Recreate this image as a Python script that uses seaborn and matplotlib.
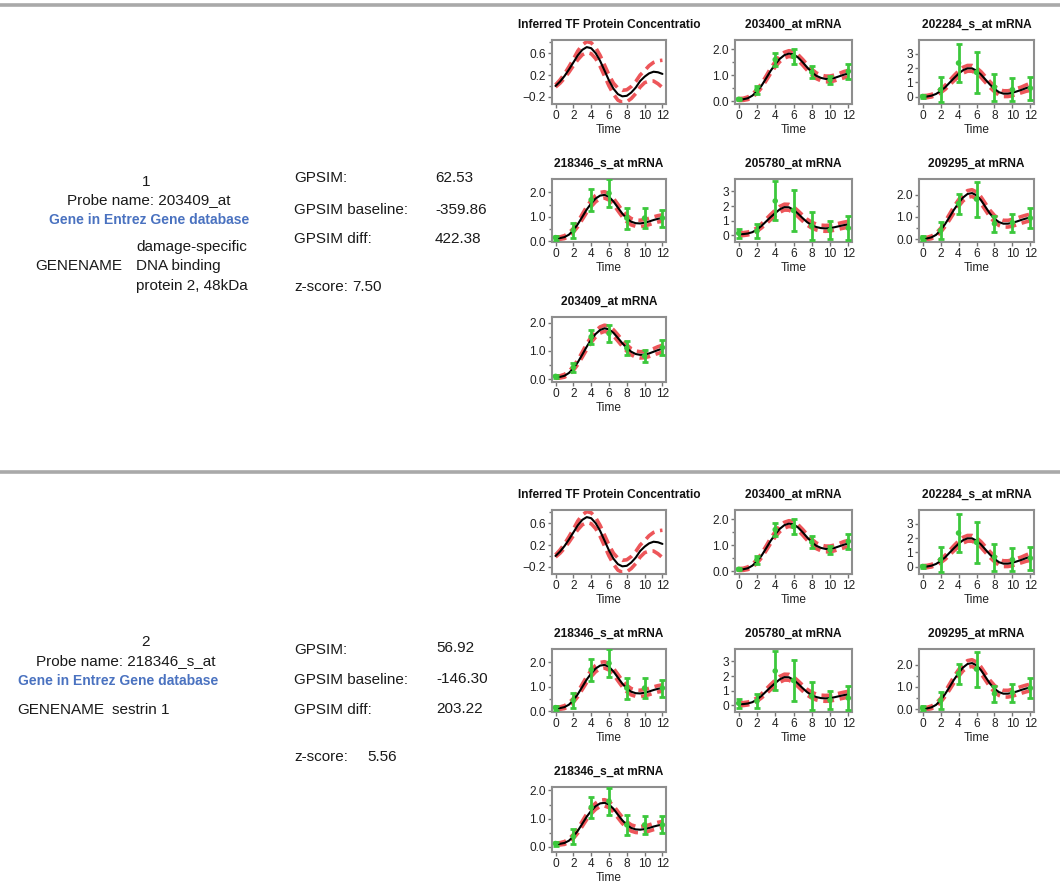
import numpy as np
import matplotlib
matplotlib.use("Agg")
import matplotlib.pyplot as plt
from matplotlib.lines import Line2D
import seaborn as sns

sns.set_theme(style="white")
plt.rcParams["font.family"] = ["Liberation Sans", "DejaVu Sans"]

# ---------------------------------------------------------------- data
t_fine = [0, 0.5, 1, 1.5, 2, 2.5, 3, 3.5, 4, 4.5, 5, 5.5, 6,
          6.5, 7, 7.5, 8, 8.5, 9, 9.5, 10, 10.5, 11, 11.5, 12]
t_obs = [0, 2, 4, 6, 8, 10, 12]

# inferred transcription-factor protein profile (posterior mean, 2-sd band)
tf_mean = [0.00, 0.08, 0.18, 0.30, 0.43, 0.56, 0.66, 0.71, 0.69, 0.60, 0.46, 0.28, 0.10,
           -0.05, -0.15, -0.19, -0.18, -0.12, -0.03, 0.09, 0.17, 0.23, 0.26, 0.25, 0.22]
tf_band = [0.02, 0.03, 0.04, 0.05, 0.06, 0.08, 0.09, 0.10, 0.10, 0.10, 0.10, 0.10, 0.10,
           0.10, 0.11, 0.11, 0.11, 0.11, 0.11, 0.11, 0.11, 0.14, 0.17, 0.21, 0.25]

# 203400_at
m203400_mean = [0.07, 0.08, 0.12, 0.22, 0.38, 0.60, 0.88, 1.17, 1.42, 1.63, 1.77, 1.83, 1.80,
                1.68, 1.50, 1.30, 1.12, 0.98, 0.90, 0.86, 0.86, 0.90, 0.96, 1.02, 1.07]
m203400_band = [0.04, 0.04, 0.05, 0.06, 0.07, 0.08, 0.09, 0.10, 0.10, 0.11, 0.11, 0.11, 0.11,
                0.11, 0.11, 0.11, 0.11, 0.11, 0.11, 0.11, 0.11, 0.11, 0.11, 0.12, 0.12]
m203400_obs = [0.08, 0.45, 1.60, 1.72, 1.12, 0.82, 1.15]
m203400_err = [0.04, 0.15, 0.25, 0.30, 0.22, 0.15, 0.30]

# 202284_s_at
m202284_mean = [0.00, 0.02, 0.08, 0.20, 0.40, 0.65, 0.98, 1.30, 1.60, 1.85, 1.98, 1.98, 1.82,
                1.55, 1.20, 0.85, 0.55, 0.32, 0.22, 0.22, 0.28, 0.38, 0.48, 0.60, 0.70]
m202284_band = [0.08, 0.08, 0.09, 0.10, 0.12, 0.14, 0.16, 0.18, 0.20, 0.20, 0.20, 0.20, 0.20,
                0.20, 0.20, 0.20, 0.20, 0.20, 0.20, 0.20, 0.20, 0.20, 0.20, 0.22, 0.25]
m202284_obs = [0.02, 0.50, 2.35, 1.70, 0.67, 0.50, 0.60]
m202284_err = [0.10, 0.85, 1.35, 1.45, 0.95, 0.80, 0.80]

# 218346_s_at
m218346_mean = [0.12, 0.13, 0.17, 0.27, 0.45, 0.70, 1.00, 1.30, 1.55, 1.75, 1.87, 1.90, 1.82,
                1.63, 1.38, 1.13, 0.93, 0.80, 0.74, 0.73, 0.76, 0.81, 0.87, 0.92, 0.95]
m218346_band = [0.05, 0.05, 0.06, 0.07, 0.08, 0.10, 0.11, 0.12, 0.13, 0.13, 0.13, 0.13, 0.13,
                0.13, 0.13, 0.13, 0.13, 0.13, 0.13, 0.13, 0.13, 0.13, 0.13, 0.13, 0.13]
m218346_obs = [0.15, 0.45, 1.70, 1.97, 0.95, 0.95, 0.95]
m218346_err = [0.08, 0.30, 0.45, 0.58, 0.43, 0.40, 0.35]

# 205780_at
m205780_mean = [0.08, 0.09, 0.13, 0.22, 0.40, 0.65, 0.95, 1.25, 1.52, 1.78, 1.93, 1.92, 1.75,
                1.48, 1.18, 0.90, 0.70, 0.57, 0.50, 0.48, 0.50, 0.56, 0.63, 0.70, 0.76]
m205780_band = [0.10, 0.10, 0.10, 0.11, 0.12, 0.14, 0.16, 0.18, 0.20, 0.20, 0.20, 0.20, 0.20,
                0.20, 0.20, 0.20, 0.20, 0.20, 0.20, 0.20, 0.20, 0.20, 0.20, 0.20, 0.20]
m205780_obs = [0.15, 0.30, 2.35, 1.70, 0.65, 0.35, 0.50]
m205780_err = [0.30, 0.50, 1.33, 1.40, 0.95, 0.60, 0.80]

# 209295_at
m209295_mean = [0.03, 0.04, 0.09, 0.20, 0.40, 0.68, 1.00, 1.33, 1.62, 1.87, 2.03, 2.07, 1.97,
                1.75, 1.45, 1.15, 0.92, 0.77, 0.70, 0.70, 0.74, 0.80, 0.87, 0.93, 0.98]
m209295_band = [0.05, 0.05, 0.06, 0.07, 0.09, 0.11, 0.13, 0.14, 0.15, 0.15, 0.15, 0.15, 0.15,
                0.15, 0.15, 0.15, 0.15, 0.15, 0.15, 0.15, 0.15, 0.15, 0.15, 0.15, 0.15]
m209295_obs = [0.06, 0.40, 1.60, 1.80, 0.70, 0.75, 0.95]
m209295_err = [0.10, 0.38, 0.45, 0.78, 0.35, 0.40, 0.45]

# 203409_at
m203409_mean = [0.07, 0.08, 0.12, 0.22, 0.38, 0.60, 0.87, 1.15, 1.40, 1.60, 1.74, 1.80, 1.76,
                1.64, 1.46, 1.27, 1.10, 0.97, 0.89, 0.86, 0.87, 0.91, 0.97, 1.03, 1.08]
m203409_band = [0.04, 0.04, 0.05, 0.06, 0.07, 0.08, 0.09, 0.10, 0.10, 0.11, 0.11, 0.11, 0.11,
                0.11, 0.11, 0.11, 0.11, 0.11, 0.11, 0.11, 0.11, 0.11, 0.11, 0.12, 0.12]
m203409_obs = [0.10, 0.42, 1.50, 1.62, 1.10, 0.82, 1.12]
m203409_err = [0.05, 0.15, 0.25, 0.30, 0.25, 0.20, 0.28]

# 218346_s_at as the regulator's own mRNA in the second model
r218346_mean = [0.10, 0.11, 0.14, 0.22, 0.37, 0.57, 0.82, 1.07, 1.28, 1.44, 1.54, 1.56, 1.50,
                1.35, 1.14, 0.94, 0.78, 0.67, 0.62, 0.61, 0.63, 0.67, 0.72, 0.76, 0.79]
r218346_band = [0.04, 0.04, 0.05, 0.06, 0.07, 0.08, 0.09, 0.10, 0.11, 0.11, 0.11, 0.11, 0.11,
                0.11, 0.11, 0.11, 0.11, 0.11, 0.11, 0.11, 0.11, 0.11, 0.11, 0.11, 0.11]
r218346_obs = [0.12, 0.37, 1.40, 1.62, 0.78, 0.78, 0.78]
r218346_err = [0.07, 0.25, 0.37, 0.48, 0.35, 0.33, 0.30]

# ranking table entries
rank_ids = ["1", "2"]
probe_names = ["203409_at", "218346_s_at"]
gene_names = [["damage-specific", "DNA binding", "protein 2, 48kDa"], ["sestrin 1"]]
gpsim_scores = ["62.53", "56.92"]
gpsim_baseline = ["-359.86", "-146.30"]
gpsim_diff = ["422.38", "203.22"]
z_scores = ["7.50", "5.56"]

# ---------------------------------------------------------------- style
W, H = 1060, 885
RED = "#e8262b"
GREEN = "#3cc83c"
FRAME = "#8e8e8e"
LINK = "#4a72c0"
TICK_FS = 8.6
TITLE_FS = 8.6

fig = plt.figure(figsize=(W / 100, H / 100), dpi=100)
fig.patch.set_facecolor("white")


def px_axes(left, top, right, bottom):
    return fig.add_axes([left / W, 1 - bottom / H, (right - left) / W, (bottom - top) / H])


def px_text(x, y, s, **kw):
    kw.setdefault("va", "center")
    kw.setdefault("fontsize", 11)
    kw.setdefault("color", "#1a1a1a")
    fig.text(x / W, 1 - y / H, s, **kw)


def draw_panel(ax, title, mean, band, ylim, yticks, ylabels, yminor, obs=None, err=None):
    mean = np.asarray(mean)
    band = np.asarray(band)
    dash = (0, (3.0, 1.6))
    sns.lineplot(x=t_fine, y=mean + band, ax=ax, color=RED, lw=2.6, linestyle=dash, alpha=0.78)
    sns.lineplot(x=t_fine, y=mean - band, ax=ax, color=RED, lw=2.6, linestyle=dash, alpha=0.78)
    sns.lineplot(x=t_fine, y=mean, ax=ax, color="black", lw=1.5)
    if obs is not None:
        ax.errorbar(t_obs, obs, yerr=err, fmt="none", ecolor=GREEN, elinewidth=2.0,
                    capsize=2.5, capthick=2.0, zorder=5)
        sns.scatterplot(x=t_obs, y=obs, ax=ax, color=GREEN, s=16, edgecolor="none", zorder=6)
    ax.set_xlim(-0.4, 12.4)
    ax.set_xticks(range(0, 13, 2))
    ax.set_ylim(*ylim)
    ax.set_yticks(yticks)
    ax.set_yticklabels(ylabels)
    if yminor:
        ax.set_yticks(yminor, minor=True)
    ax.tick_params(which="both", direction="out", color="#777777", width=1.0,
                   labelsize=TICK_FS, labelcolor="#222222", pad=1.5, left=True, bottom=True)
    ax.tick_params(which="major", length=3)
    ax.tick_params(which="minor", length=2)
    ax.set_xlabel("Time", fontsize=TICK_FS, labelpad=1.0, color="#222222")
    ax.set_ylabel("")
    ax.set_title(title, fontsize=TITLE_FS, fontweight="bold", pad=8.5, color="#111111")
    for sp in ax.spines.values():
        sp.set_color(FRAME)
        sp.set_linewidth(1.5)


TF_Y = dict(ylim=(-0.33, 0.84), yticks=[-0.2, 0.2, 0.6], ylabels=["\u22120.2", "0.2", "0.6"],
            yminor=[0.0, 0.4, 0.8])


def lin_axis(lo, hi):
    return dict(ylim=(lo, hi), yticks=[0, 1, 2], ylabels=["0.0", "1.0", "2.0"], yminor=[0.5, 1.5])


def int_axis(lo, hi):
    return dict(ylim=(lo, hi), yticks=[0, 1, 2, 3], ylabels=["0", "1", "2", "3"], yminor=[])


target_panels = [
    ("203400_at mRNA", m203400_mean, m203400_band, m203400_obs, m203400_err, lin_axis(-0.1, 2.35)),
    ("202284_s_at mRNA", m202284_mean, m202284_band, m202284_obs, m202284_err, int_axis(-0.5, 3.95)),
    ("218346_s_at mRNA", m218346_mean, m218346_band, m218346_obs, m218346_err, lin_axis(-0.03, 2.55)),
    ("205780_at mRNA", m205780_mean, m205780_band, m205780_obs, m205780_err, int_axis(-0.45, 3.85)),
    ("209295_at mRNA", m209295_mean, m209295_band, m209295_obs, m209295_err, lin_axis(-0.12, 2.7)),
]
regulator_panels = [
    ("203409_at mRNA", m203409_mean, m203409_band, m203409_obs, m203409_err, lin_axis(-0.1, 2.2)),
    ("218346_s_at mRNA", r218346_mean, r218346_band, r218346_obs, r218346_err, lin_axis(-0.18, 2.12)),
]

# grid geometry (pixels)
COLS = [(552, 666), (735, 852), (919, 1034)]
ROWS = [(40, 104), (179, 242), (317, 382)]
BLOCK_SHIFT = [0, 470]
SEPARATORS = [5, 472]

for y in SEPARATORS:
    fig.add_artist(Line2D([0, 1], [1 - y / H] * 2, transform=fig.transFigure,
                          color="#a9a9a9", lw=2.6))

for b, shift in enumerate(BLOCK_SHIFT):
    slots = [(r, c) for r in range(3) for c in range(3)]
    # TF profile
    (t0, b0), (l0, r0) = ROWS[0], COLS[0]
    ax = px_axes(l0, t0 + shift, r0, b0 + shift)
    draw_panel(ax, "Inferred TF Protein Concentratio", tf_mean, tf_band, **TF_Y)
    # target genes
    for k, (title, mean, band, obs, err, yax) in enumerate(target_panels):
        r, c = slots[k + 1]
        (tt, bb), (ll, rr) = ROWS[r], COLS[c]
        ax = px_axes(ll, tt + shift, rr, bb + shift)
        draw_panel(ax, title, mean, band, obs=obs, err=err, **yax)
    # regulator mRNA
    title, mean, band, obs, err, yax = regulator_panels[b]
    (tt, bb), (ll, rr) = ROWS[2], COLS[0]
    ax = px_axes(ll, tt + shift, rr, bb + shift)
    draw_panel(ax, title, mean, band, obs=obs, err=err, **yax)

# ---------------------------------------------------------------- left-hand text
# block 1
px_text(146, 182, rank_ids[0], ha="center")
px_text(149, 200, "Probe name: " + probe_names[0], ha="center")
px_text(149, 220, "Gene in Entrez Gene database", ha="center", color=LINK,
        fontweight="bold", fontsize=10)
px_text(35, 266, "GENENAME", ha="left")
for line, yy in zip(gene_names[0], [247, 266, 286]):
    px_text(136, yy, line, ha="left")
px_text(294, 178, "GPSIM:", ha="left")
px_text(294, 210, "GPSIM baseline:", ha="left")
px_text(294, 239, "GPSIM diff:", ha="left")
px_text(435, 178, gpsim_scores[0], ha="left")
px_text(435, 210, gpsim_baseline[0], ha="left")
px_text(435, 239, gpsim_diff[0], ha="left")
px_text(294, 287, "z-score:", ha="left")
px_text(352, 287, z_scores[0], ha="left")

# block 2
px_text(146, 642, rank_ids[1], ha="center")
px_text(126, 661, "Probe name: " + probe_names[1], ha="center")
px_text(118, 681, "Gene in Entrez Gene database", ha="center", color=LINK,
        fontweight="bold", fontsize=10)
px_text(17, 710, "GENENAME", ha="left")
px_text(112, 710, gene_names[1][0], ha="left")
px_text(294, 650, "GPSIM:", ha="left")
px_text(294, 680, "GPSIM baseline:", ha="left")
px_text(294, 710, "GPSIM diff:", ha="left")
px_text(436, 648, gpsim_scores[1], ha="left")
px_text(436, 679, gpsim_baseline[1], ha="left")
px_text(436, 709, gpsim_diff[1], ha="left")
px_text(294, 757, "z-score:", ha="left")
px_text(367, 757, z_scores[1], ha="left")

fig.savefig("out.png", dpi=100, facecolor="white")
